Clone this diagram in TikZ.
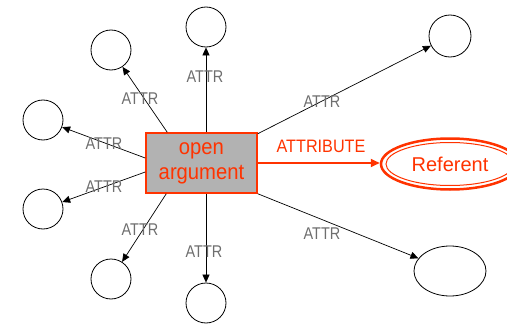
\documentclass[tikz,border=0pt]{standalone}
\usepackage{fontspec}
\setmainfont{Liberation Sans}
\newfontfamily\fa[FakeStretch=0.92]{Liberation Sans}
\newfontfamily\fb[FakeStretch=0.9]{Liberation Sans}
\newfontfamily\fc[FakeStretch=0.85]{Liberation Sans}
\usetikzlibrary{arrows.meta,shapes.geometric,calc}
\definecolor{ored}{HTML}{FF3300}
\definecolor{boxgray}{HTML}{B2B2B2}
\definecolor{lblgray}{HTML}{6E6E6E}
\begin{document}
\begin{tikzpicture}[x=1pt,y=-1pt,
 circ/.style={circle,draw,line width=0.8pt,minimum size=40pt,inner sep=0},
 attr/.style={-{Triangle[length=8pt,width=7pt]},line width=0.7pt},
 lbl/.style={text=lblgray,font=\fc\fontsize{17}{20}\selectfont,inner sep=0},
 ]
\useasboundingbox (0,0) rectangle (507,324);
\node[draw=ored,fill=boxgray,line width=1.5pt,minimum width=111pt,minimum height=60pt,inner sep=0,align=center,text=ored,font=\fa\fontsize{22}{25}\selectfont] (ob) at (201.5,163) {open\\argument};
\node[circ] (c1) at (206,27) {};
\node[circ] (c2) at (111,50) {};
\node[circ] (c3) at (43,120) {};
\node[circ] (c4) at (43,209) {};
\node[circ] (c5) at (111,279) {};
\node[circ] (c6) at (206,303) {};
\node[circ,minimum size=42pt] (c7) at (450,36) {};
\node[ellipse,draw,line width=0.8pt,minimum width=72pt,minimum height=50pt,inner sep=0] (c8) at (450,271) {};
\node[ellipse,draw=ored,line width=2.5pt,minimum width=138pt,minimum height=51pt,inner sep=0,text=ored,font=\fontsize{20}{24}\selectfont] (ref) at (450,164) {Referent};
\draw[ored,line width=1pt] (ref.center) ellipse (64 and 21.5);
\draw[attr] (ob.north -| c1) -- (c1);
\draw[attr] ($(ob.north west)+(22,0)$) -- (c2);
\draw[attr] ($(ob.west)+(0,-5)$) -- (c3);
\draw[attr] ($(ob.west)+(0,9)$) -- (c4);
\draw[attr] ($(ob.south west)+(21,0)$) -- (c5);
\draw[attr] (ob.south -| c6) -- (c6);
\draw[attr] ($(ob.north east)+(0,1.5)$) -- (c7);
\draw[attr] (ob.south east) -- (c8);
\draw[ored,line width=1.8pt,-{Triangle[length=9pt,width=8pt]}] (ob.east) -- (ob.east -| ref.west);
\node[lbl] (l1) at (205,77) {ATTR};
\node[lbl] (l2) at (140,99) {ATTR};
\node[lbl] (l3) at (104,144) {ATTR};
\node[lbl] (l4) at (104,187) {ATTR};
\node[lbl] (l5) at (140,230) {ATTR};
\node[lbl] (l6) at (204,252) {ATTR};
\node[lbl] (l7) at (322,102) {ATTR};
\node[lbl] (l8) at (322,234) {ATTR};
\node[text=ored,font=\fb\fontsize{18}{21}\selectfont,inner sep=0] (la) at (321,146) {ATTRIBUTE};
\end{tikzpicture}
\end{document}
